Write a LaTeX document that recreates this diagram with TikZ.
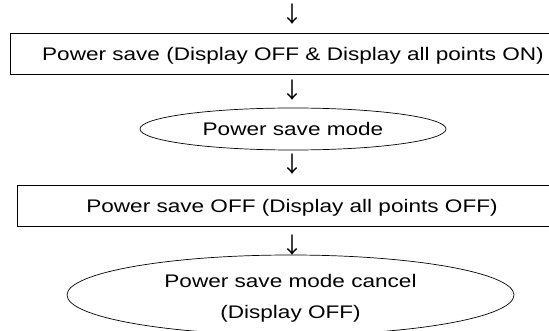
\documentclass[tikz,border=0pt]{standalone}
\usepackage{fontspec}
\setmainfont{Liberation Sans}[FakeStretch=1.24]
\newfontfamily\cjk{Noto Sans CJK JP}
\usetikzlibrary{shapes.geometric}

\tikzset{
    stepbox/.style={draw, line width=0.8pt, inner sep=0pt, minimum height=41pt,
        text height=14pt, text depth=0pt},
    modebox/.style={draw, ellipse, line width=0.7pt, inner sep=0pt},
    arrowtext/.style={inner sep=0pt, font=\cjk\fontsize{22}{22}\selectfont}
}

\begin{document}
\begin{tikzpicture}[x=1pt, y=-1pt, line join = round, line cap = round,
    every node/.style={font=\fontsize{18.2}{31}\selectfont}]
    \useasboundingbox (0,0) rectangle (549,331);
    \clip (0,0) rectangle (549,331);

    \node [stepbox, minimum width=566pt] (save) at (293,53.5)
        {Power save (Display OFF \& Display all points ON)};
    \node [modebox, minimum width=306pt, minimum height=42pt] (mode) at (293,129)
        {Power save mode};
    \node [stepbox, minimum width=549.4pt] (saveoff) at (292,206)
        {Power save OFF (Display all points OFF)};
    \node [modebox, align=center, minimum width=447pt, minimum height=80pt,
        text height=50.4pt, text depth=3.8pt] (cancel) at (290.5,295)
        {Power save mode cancel\\(Display OFF)};

    % arrows are glyphs, as in the original sheet
    \foreach \y [count=\i] in {14,90,164,245}
        \node [arrowtext] (arrow\i) at (292.5,\y) {↓};
\end{tikzpicture}
\end{document}
